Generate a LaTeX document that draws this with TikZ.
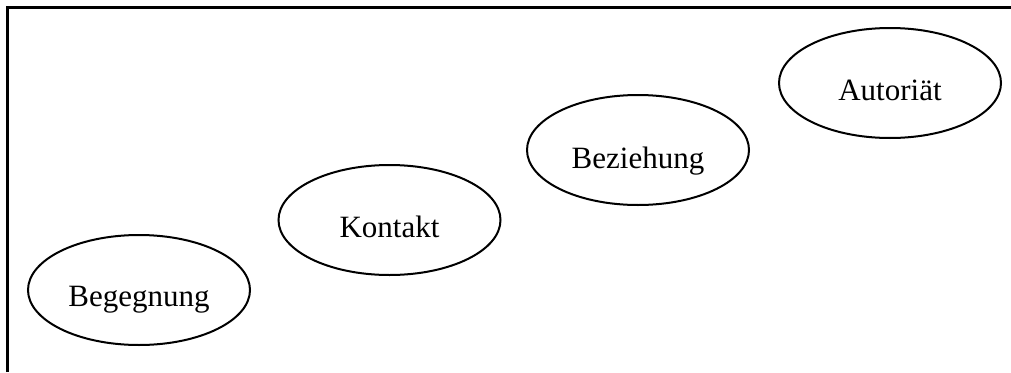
\documentclass[tikz,border=0pt]{standalone}
\usepackage{fontspec}
\setmainfont{Liberation Serif}
\usetikzlibrary{shapes.geometric}
\begin{document}
\begin{tikzpicture}[x=1pt,y=-1pt,
  stage/.style={draw,line width=2pt,ellipse,minimum width=222pt,minimum height=110pt,inner sep=0pt},
  lbl/.style={anchor=base,font=\fontsize{31}{36}\selectfont},
  frame/.style={line width=3pt}]
\useasboundingbox (0,0) rectangle (1011,372);
\draw[frame] (7.5,372) -- (7.5,7.5) -- (1011,7.5);
\node[stage] (e1) at (139,290) {};
\node[stage] (e2) at (389.5,220) {};
\node[stage] (e3) at (638,150) {};
\node[stage] (e4) at (890,83) {};
\node[lbl] (t1) at ([yshift=-16pt]e1.center) {Begegnung};
\node[lbl] (t2) at ([yshift=-17pt]e2.center) {Kontakt};
\node[lbl] (t3) at ([yshift=-18pt]e3.center) {Beziehung};
\node[lbl] (t4) at ([yshift=-17pt]e4.center) {Autoriät};
\end{tikzpicture}
\end{document}
